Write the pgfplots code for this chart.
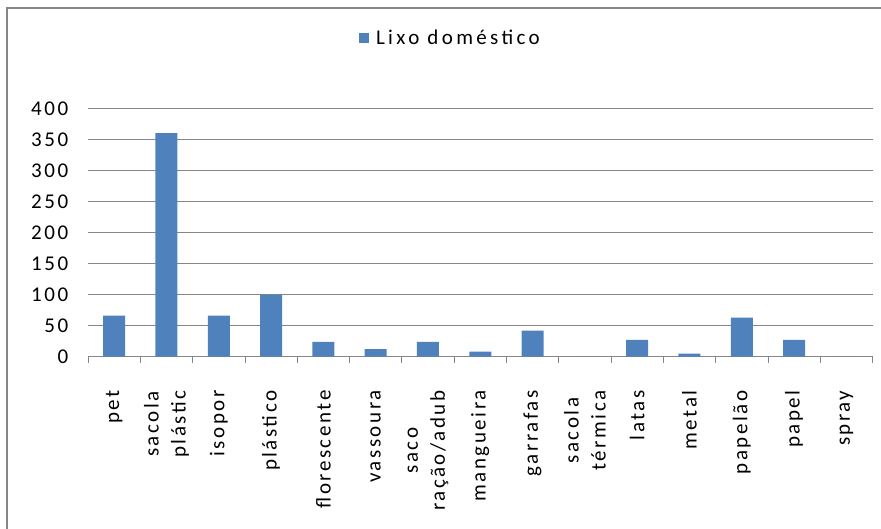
\documentclass[border=0pt]{standalone}
\usepackage{pgfplots}
\pgfplotsset{compat=1.18}
\usepackage{fontspec}
\setmainfont{Carlito}[LetterSpace=12]
\definecolor{barblue}{RGB}{79,129,189}
\definecolor{gridgray}{RGB}{134,134,134}
\begin{document}
\begin{tikzpicture}[x=1pt,y=1pt]
\useasboundingbox (0,0) rectangle (881,529);
\draw[gridgray, line width=1.4pt] (7,0) -- (7,521) -- (881,521);
\begin{axis}[
  at={(88pt,172.3pt)}, anchor=south west,
  scale only axis, width=784.5pt, height=248.4pt,
  xmin=-0.5, xmax=14.5, ymin=0, ymax=400,
  ybar, bar width=22pt,
  ytick={0,50,...,400},
  xtick={0,...,14},
  xticklabels={pet,{sacola\\plástic},isopor,plástico,florescente,vassoura,{saco\\ração/adub},mangueira,garrafas,{sacola\\térmica},latas,metal,papelão,papel,spray},
  minor xtick={-0.5,0.5,...,14.5},
  major x tick style={draw=none},
  minor x tick style={gridgray, line width=0.8pt},
  minor tick length=6pt,
  tick align=outside,
  xtick pos=bottom, ytick pos=left,
  ytick style={draw=none},
  axis line style={draw=none},
  ymajorgrids, grid style={gridgray, line width=0.8pt},
  /pgf/number format/assume math mode=true,
  yticklabel style={font=\fontsize{21}{25}\selectfont, xshift=-12pt},
  xticklabel style={font=\fontsize{21}{27}\selectfont, align=center, yshift=-26pt, rotate=90, anchor=east},
  legend style={at={(0.462,1.283)}, anchor=center, draw=none, fill=none, font=\fontsize{21}{25}\addfontfeature{LetterSpace=16}\selectfont},
]
\addplot[ybar, fill=barblue, draw=none, legend image code/.code={\fill[barblue] (0pt,-5pt) rectangle (10pt,5pt);}] coordinates {
(0,66) (1,360) (2,66) (3,100) (4,24) (5,12) (6,24) (7,8) (8,42) (9,0) (10,27) (11,5) (12,63) (13,27) (14,0)
};
\addlegendentry{\hspace{5pt}Lixo doméstico}
\end{axis}
\end{tikzpicture}
\end{document}
